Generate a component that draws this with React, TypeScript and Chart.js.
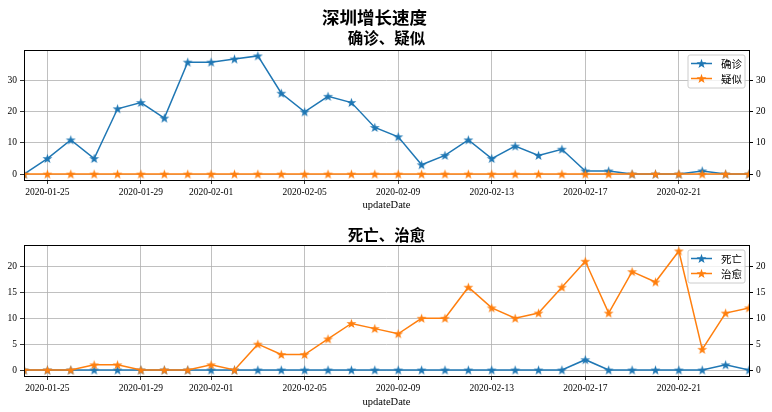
import React, { useEffect, useRef } from 'react';
import { Chart, registerables } from 'chart.js';

Chart.register(...registerables);

// ---------------- data ----------------
const dates = [
  '2020-01-24', '2020-01-25', '2020-01-26', '2020-01-27', '2020-01-28', '2020-01-29', '2020-01-30', '2020-01-31',
  '2020-02-01', '2020-02-02', '2020-02-03', '2020-02-04', '2020-02-05', '2020-02-06', '2020-02-07', '2020-02-08',
  '2020-02-09', '2020-02-10', '2020-02-11', '2020-02-12', '2020-02-13', '2020-02-14', '2020-02-15', '2020-02-16',
  '2020-02-17', '2020-02-18', '2020-02-19', '2020-02-20', '2020-02-21', '2020-02-22', '2020-02-23', '2020-02-24',
];
const xTickLabels = ['2020-01-25', '2020-01-29', '2020-02-01', '2020-02-05', '2020-02-09', '2020-02-13', '2020-02-17', '2020-02-21'];

const confirmed = [0, 5, 11, 5, 21, 23, 18, 36, 36, 37, 38, 26, 20, 25, 23, 15, 12, 3, 6, 11, 5, 9, 6, 8, 1, 1, 0, 0, 0, 1, 0, 0];
const suspected = [0, 0, 0, 0, 0, 0, 0, 0, 0, 0, 0, 0, 0, 0, 0, 0, 0, 0, 0, 0, 0, 0, 0, 0, 0, 0, 0, 0, 0, 0, 0, 0];
const dead = [0, 0, 0, 0, 0, 0, 0, 0, 0, 0, 0, 0, 0, 0, 0, 0, 0, 0, 0, 0, 0, 0, 0, 0, 2, 0, 0, 0, 0, 0, 1, 0];
const cured = [0, 0, 0, 1, 1, 0, 0, 0, 1, 0, 5, 3, 3, 6, 9, 8, 7, 10, 10, 16, 12, 10, 11, 16, 21, 11, 19, 17, 23, 4, 11, 12];

const yTicksTop = [0, 10, 20, 30];
const yTicksBottom = [0, 5, 10, 15, 20];

const BLUE = '#1f77b4';
const ORANGE = '#ff7f0e';
const SERIF = '"Liberation Serif", "DejaVu Serif", serif';
const CJK = '"Noto Sans CJK SC", "Noto Sans CJK JP", sans-serif';

function makeStar(color: string, size = 11): HTMLCanvasElement {
  const c = document.createElement('canvas');
  c.width = size;
  c.height = size;
  const ctx = c.getContext('2d')!;
  const cx = size / 2;
  const cy = size / 2 + 0.4;
  const R = size / 2 - 0.3;
  const r = R * 0.39;
  ctx.beginPath();
  for (let i = 0; i < 10; i++) {
    const rad = i % 2 === 0 ? R : r;
    const a = -Math.PI / 2 + (i * Math.PI) / 5;
    ctx.lineTo(cx + rad * Math.cos(a), cy + rad * Math.sin(a));
  }
  ctx.closePath();
  ctx.fillStyle = color;
  ctx.fill();
  return c;
}

type TitleSpec = { text: string; y: number; size: number; dx?: number };
type LegendSpec = { label: string; color: string; img: HTMLCanvasElement };

function makePlugin(titles: TitleSpec[], legend: LegendSpec[]) {
  return {
    id: 'figDecor',
    afterDraw(chart: any) {
      const { ctx, chartArea } = chart;
      const { left, right, top, bottom } = chartArea;
      ctx.save();
      // frame
      ctx.strokeStyle = '#000';
      ctx.lineWidth = 1;
      ctx.strokeRect(Math.round(left) + 0.5, Math.round(top) + 0.5, Math.round(right - left), Math.round(bottom - top));
      // titles
      const cx = (left + right) / 2;
      ctx.fillStyle = '#000';
      ctx.textAlign = 'center';
      ctx.textBaseline = 'middle';
      titles.forEach((t) => {
        ctx.font = `bold ${t.size}px ${CJK}`;
        ctx.fillText(t.text, cx + (t.dx || 0), t.y);
      });
      // legend
      const w = 57;
      const h = 33;
      const bx = right - 4 - w;
      const by = top + 5;
      ctx.beginPath();
      const rr = 2;
      ctx.moveTo(bx + rr, by);
      ctx.lineTo(bx + w - rr, by);
      ctx.quadraticCurveTo(bx + w, by, bx + w, by + rr);
      ctx.lineTo(bx + w, by + h - rr);
      ctx.quadraticCurveTo(bx + w, by + h, bx + w - rr, by + h);
      ctx.lineTo(bx + rr, by + h);
      ctx.quadraticCurveTo(bx, by + h, bx, by + h - rr);
      ctx.lineTo(bx, by + rr);
      ctx.quadraticCurveTo(bx, by, bx + rr, by);
      ctx.closePath();
      ctx.fillStyle = 'rgba(255,255,255,0.8)';
      ctx.fill();
      ctx.strokeStyle = '#cccccc';
      ctx.lineWidth = 1;
      ctx.stroke();
      legend.forEach((item, i) => {
        const ry = by + 8.5 + i * 15;
        ctx.strokeStyle = item.color;
        ctx.lineWidth = 1.5;
        ctx.beginPath();
        ctx.moveTo(bx + 3, ry);
        ctx.lineTo(bx + 24, ry);
        ctx.stroke();
        ctx.drawImage(item.img, bx + 13.5 - item.img.width / 2, ry - item.img.height / 2);
        ctx.fillStyle = '#000';
        ctx.textAlign = 'left';
        ctx.textBaseline = 'middle';
        ctx.font = `10.5px ${CJK}`;
        ctx.fillText(item.label, bx + 33, ry + 0.5);
      });
      ctx.restore();
    },
  };
}

type PanelProps = {
  height: number;
  padTop: number;
  xAxisHeight: number;
  series: { label: string; data: number[]; color: string }[];
  yTicks: number[];
  titles: TitleSpec[];
};

function Panel({ height, padTop, xAxisHeight, series, yTicks, titles }: PanelProps) {
  const ref = useRef<HTMLCanvasElement | null>(null);
  useEffect(() => {
    if (!ref.current) return;
    const all = series.flatMap((s) => s.data);
    const dmin = Math.min(...all);
    const dmax = Math.max(...all);
    const pad = (dmax - dmin) * 0.05;
    const ymin = dmin - pad;
    const ymax = dmax + pad;
    const imgs = series.map((s) => makeStar(s.color));
    const tickIdx = xTickLabels.map((l) => dates.indexOf(l));
    const tickFont = { family: SERIF, size: 9.5 };

    const chart = new Chart(ref.current, {
      type: 'line',
      data: {
        labels: dates,
        datasets: series.map((s, i) => ({
          label: s.label,
          data: s.data,
          borderColor: s.color,
          backgroundColor: s.color,
          borderWidth: 1.5,
          pointStyle: imgs[i] as any,
          pointRadius: 5,
          tension: 0,
          fill: false,
          clip: 0 as any,
          order: series.length - i,
          yAxisID: 'y',
        })),
      },
      options: {
        animation: false,
        responsive: false,
        maintainAspectRatio: false,
        layout: { padding: { top: padTop, left: 0, right: 0, bottom: 0 } },
        plugins: { legend: { display: false }, tooltip: { enabled: false }, title: { display: false } },
        scales: {
          x: {
            type: 'category',
            offset: false,
            grid: { color: '#b0b0b0', lineWidth: 0.8, tickColor: '#000', tickLength: 4, drawTicks: true },
            border: { display: false },
            ticks: { autoSkip: false, maxRotation: 0, minRotation: 0, color: '#000', font: tickFont, padding: 3 },
            title: {
              display: true,
              text: 'updateDate',
              color: '#000',
              font: { family: SERIF, size: 10.5 },
              padding: { top: 0, bottom: 3 },
            },
            afterBuildTicks: (s: any) => {
              s.ticks = tickIdx.map((v) => ({ value: v }));
            },
            afterFit: (s: any) => {
              s.height = xAxisHeight;
            },
          } as any,
          y: {
            position: 'left',
            min: ymin,
            max: ymax,
            grid: { color: '#b0b0b0', lineWidth: 0.8, tickColor: '#000', tickLength: 4 },
            border: { display: false },
            ticks: { color: '#000', font: tickFont, padding: 3 },
            afterBuildTicks: (s: any) => {
              s.ticks = yTicks.map((v) => ({ value: v }));
            },
            afterFit: (s: any) => {
              s.width = 24;
            },
          } as any,
          y2: {
            position: 'right',
            min: ymin,
            max: ymax,
            grid: { drawOnChartArea: false, tickColor: '#000', tickLength: 4 },
            border: { display: false },
            ticks: { color: '#000', font: tickFont, padding: 3 },
            afterBuildTicks: (s: any) => {
              s.ticks = yTicks.map((v) => ({ value: v }));
            },
            afterFit: (s: any) => {
              s.width = 23;
            },
          } as any,
        },
      },
      plugins: [
        makePlugin(
          titles,
          series.map((s, i) => ({ label: s.label, color: s.color, img: imgs[i] })),
        ),
      ],
    });
    return () => chart.destroy();
  }, []);
  return <canvas ref={ref} width={772} height={height} style={{ display: 'block', width: 772, height }} />;
}

export default function App() {
  return (
    <div style={{ position: 'absolute', left: 0, top: 0, width: 772, height: 412, background: '#fff' }}>
      <Panel
        height={215}
        padTop={50}
        xAxisHeight={35}
        series={[
          { label: '确诊', data: confirmed, color: BLUE },
          { label: '疑似', data: suspected, color: ORANGE },
        ]}
        yTicks={yTicksTop}
        titles={[
          { text: '深圳增长速度', y: 17, size: 17.5, dx: -12 },
          { text: '确诊、疑似', y: 38, size: 15.5 },
        ]}
      />
      <Panel
        height={197}
        padTop={30}
        xAxisHeight={36}
        series={[
          { label: '死亡', data: dead, color: BLUE },
          { label: '治愈', data: cured, color: ORANGE },
        ]}
        yTicks={yTicksBottom}
        titles={[{ text: '死亡、治愈', y: 20, size: 15.5 }]}
      />
    </div>
  );
}
